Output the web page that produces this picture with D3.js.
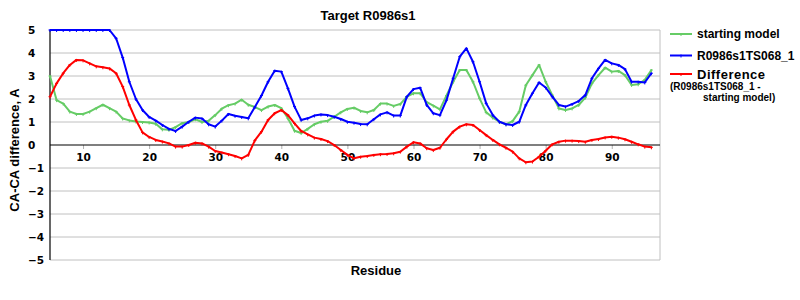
<!DOCTYPE html>
<html>
<head>
<meta charset="utf-8">
<script src="https://cdn.jsdelivr.net/npm/d3@7"></script>
<style>
  body { margin: 0; background: #fff; }
  svg { display: block; font-family: "Liberation Sans", Arial, sans-serif; }
  .tick-lbl { font-family: "DejaVu Sans", Verdana, sans-serif; font-weight: bold; font-size: 10.5px; }
</style>
</head>
<body>
<svg id="chart" width="800" height="300"></svg>
<script>
// residues 5..96
const residues = d3.range(5, 97);

const startingModel = [3.0, 1.95, 1.8, 1.45, 1.35, 1.35, 1.45, 1.6, 1.75, 1.6,
  1.45, 1.15, 1.07, 1.02, 1.0, 0.98, 0.92, 0.68, 0.66, 0.78,
  0.95, 1.0, 1.12, 1.0, 1.05, 1.3, 1.58, 1.73, 1.8, 1.97,
  1.75, 1.65, 1.52, 1.67, 1.74, 1.6, 1.16, 0.62, 0.52, 0.7,
  0.9, 1.01, 1.05, 1.23, 1.42, 1.57, 1.62, 1.48, 1.42, 1.52,
  1.8, 1.8, 1.7, 1.78, 2.1, 2.25, 2.25, 1.86, 1.71, 1.55,
  2.15, 2.75, 3.26, 3.26, 2.75, 2.03, 1.42, 1.19, 1.01, 0.9,
  1.04, 1.45, 2.6, 3.04, 3.48, 2.75, 2.17, 1.59, 1.52, 1.59,
  1.74, 2.06, 2.68, 3.04, 3.36, 3.19, 3.22, 3.04, 2.61, 2.64,
  2.83, 3.26];

const modelTS068 = [5, 5, 5, 5, 5, 5, 5, 5, 5, 5,
  4.64, 3.8, 2.75, 2.0, 1.52, 1.22, 1.06, 0.87, 0.7, 0.61,
  0.8, 1.01, 1.19, 1.15, 0.9, 0.8, 1.06, 1.35, 1.27, 1.22,
  1.16, 1.65, 2.15, 2.75, 3.23, 3.19, 2.46, 1.67, 1.09, 1.16,
  1.28, 1.33, 1.3, 1.23, 1.13, 1.01, 0.97, 0.91, 0.9, 1.12,
  1.33, 1.42, 1.28, 1.28, 2.1, 2.43, 2.49, 1.74, 1.38, 1.3,
  1.95, 2.9, 3.84, 4.2, 3.62, 2.75, 1.81, 1.3, 1.01, 0.9,
  0.87, 1.01, 1.74, 2.25, 2.72, 2.5, 2.1, 1.74, 1.67, 1.78,
  1.91, 2.17, 2.9, 3.33, 3.7, 3.55, 3.48, 3.3, 2.75, 2.75,
  2.72, 3.12];

const difference = [2.1, 2.68, 3.12, 3.48, 3.7, 3.68, 3.55, 3.42, 3.38, 3.33,
  3.12, 2.54, 1.74, 1.09, 0.55, 0.35, 0.22, 0.15, 0.07, -0.07,
  -0.07, 0.0, 0.1, 0.07, -0.07, -0.26, -0.33, -0.4, -0.48, -0.58,
  -0.43, 0.2, 0.58, 1.09, 1.38, 1.52, 1.3, 0.94, 0.61, 0.46,
  0.32, 0.26, 0.17, 0.0, -0.22, -0.43, -0.58, -0.51, -0.48, -0.43,
  -0.4, -0.39, -0.36, -0.29, -0.07, 0.12, 0.07, -0.14, -0.22, -0.12,
  0.25, 0.58, 0.8, 0.9, 0.87, 0.65, 0.43, 0.22, 0.03, -0.12,
  -0.29, -0.58, -0.75, -0.72, -0.51, -0.25, 0.03, 0.14, 0.19, 0.19,
  0.17, 0.14, 0.22, 0.26, 0.33, 0.36, 0.32, 0.25, 0.14, 0.03,
  -0.07, -0.1];

const xTicks = [10, 20, 30, 40, 50, 60, 70, 80, 90];
const yTicks = [5, 4, 3, 2, 1, 0, -1, -2, -3, -4, -5];

const series = [
  {name: "starting model", values: startingModel, color: "#66cc66"},
  {name: "R0986s1TS068_1", values: modelTS068, color: "#0000ff"},
  {name: "Difference", values: difference, color: "#ff0000"}
];

const svg = d3.select("#chart");
const margin = {top: 30, right: 140, bottom: 40, left: 50};
const width = 800 - margin.left - margin.right,   // 610
      height = 300 - margin.top - margin.bottom;  // 230

const x = d3.scaleLinear().domain([5, 97.3]).range([0, width]);
const y = d3.scaleLinear().domain([-5, 5]).range([height, 0]);

const g = svg.append("g").attr("transform", `translate(${margin.left},${margin.top})`);

// grid lines
g.append("g")
  .selectAll("line")
  .data(yTicks.filter(d => d !== 0))
  .enter().append("line")
  .attr("x1", 0).attr("x2", width)
  .attr("y1", d => y(d)).attr("y2", d => y(d))
  .attr("stroke", "#c0c0c0").attr("stroke-width", 1);

// right border
g.append("line")
  .attr("x1", width).attr("x2", width)
  .attr("y1", 0).attr("y2", height)
  .attr("stroke", "#c0c0c0");

// y tick labels (left aligned like the original)
g.append("g")
  .selectAll("text")
  .data(yTicks)
  .enter().append("text")
  .attr("class", "tick-lbl")
  .attr("x", -22)
  .attr("y", d => y(d))
  .attr("dy", "0.36em")
  .attr("fill", "#000")
  .text(d => d < 0 ? "\u2212" + Math.abs(d) : d);

// x axis sits on zero
const xAxis = g.append("g")
  .attr("transform", `translate(0,${y(0)})`)
  .call(d3.axisBottom(x).tickValues(xTicks).tickSize(4).tickPadding(5));
xAxis.select(".domain").remove();
xAxis.selectAll(".tick line").attr("stroke", "#b0b0b0");
xAxis.selectAll(".tick text")
  .attr("class", "tick-lbl")
  .attr("fill", "#000");

g.append("line")
  .attr("x1", 0).attr("x2", width)
  .attr("y1", y(0)).attr("y2", y(0))
  .attr("stroke", "#000").attr("stroke-width", 1.2);

g.append("line")
  .attr("x1", 0).attr("x2", 0)
  .attr("y1", 0).attr("y2", height)
  .attr("stroke", "#000").attr("stroke-width", 1.2);

// the lines
const line = d3.line()
  .x((d, i) => x(residues[i]))
  .y(d => y(d));

series.forEach(s => {
  g.append("path")
    .datum(s.values)
    .attr("fill", "none")
    .attr("stroke", s.color)
    .attr("stroke-width", 2)
    .attr("stroke-linejoin", "round")
    .attr("d", line);

  // small tick markers at every residue
  g.append("g")
    .selectAll("path")
    .data(s.values)
    .enter().append("path")
    .attr("d", (d, i) => `M${x(residues[i]) - 1.5},${y(d)}h3M${x(residues[i])},${y(d) - 1}v3`)
    .attr("stroke", s.color)
    .attr("stroke-width", 1);
});

// title and axis labels
svg.append("text")
  .attr("x", 368).attr("y", 20)
  .attr("text-anchor", "middle")
  .style("font-size", "13px").style("font-weight", "bold")
  .text("Target R0986s1");

svg.append("text")
  .attr("transform", "translate(19,150)rotate(-90)")
  .attr("text-anchor", "middle")
  .style("font-size", "13px").style("font-weight", "bold")
  .text("CA-CA difference, A");

svg.append("text")
  .attr("x", 376).attr("y", 275)
  .attr("text-anchor", "middle")
  .style("font-size", "13px").style("font-weight", "bold")
  .text("Residue");

// legend
const legendY = [34, 55.5, 74];
const legend = svg.append("g");
series.forEach((s, i) => {
  legend.append("line")
    .attr("x1", 670).attr("x2", 692)
    .attr("y1", legendY[i]).attr("y2", legendY[i])
    .attr("stroke", s.color).attr("stroke-width", 2);
  legend.append("path")
    .attr("d", `M681,${legendY[i] - 1}v3`)
    .attr("stroke", s.color);
  legend.append("text")
    .attr("x", 697).attr("y", legendY[i])
    .attr("dy", "0.35em")
    .style("font-size", i === 2 ? "13px" : "12px")
    .style("letter-spacing", i === 2 ? "0.5px" : null)
    .style("font-weight", "bold")
    .text(s.name);
});
legend.append("text")
  .attr("x", 670).attr("y", 90)
  .style("font-size", "10px").style("font-weight", "bold")
  .text("(R0986s1TS068_1 -");
legend.append("text")
  .attr("x", 703).attr("y", 101)
  .style("font-size", "10px").style("font-weight", "bold")
  .text("starting model)");
</script>
</body>
</html>
